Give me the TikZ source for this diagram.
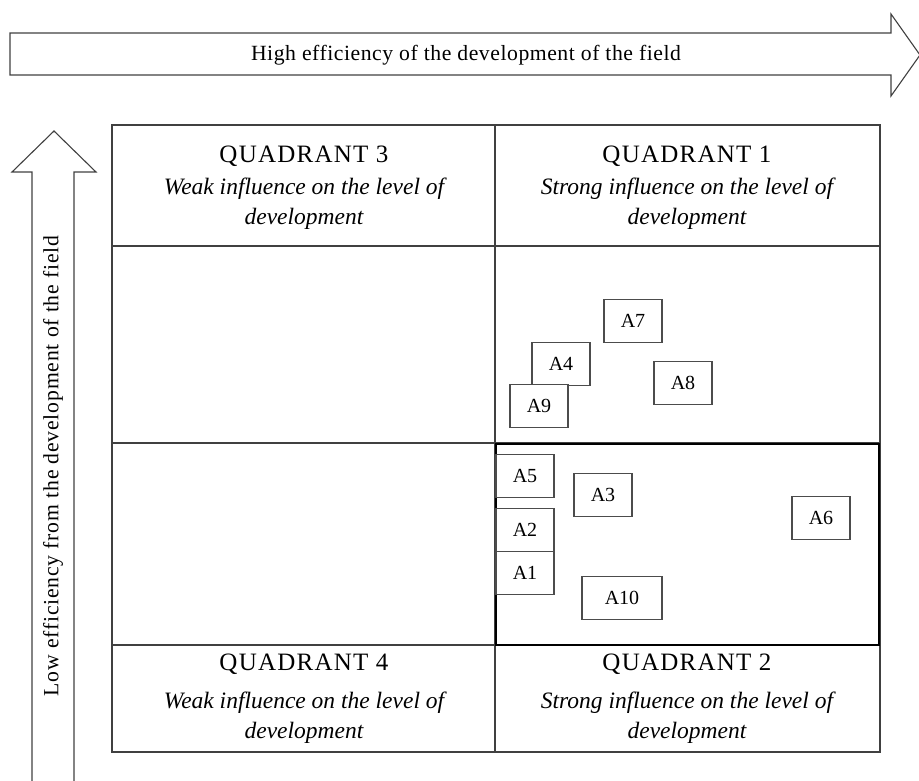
\documentclass[tikz,border=0pt]{standalone}
\usepackage{fontspec}
\setmainfont{Liberation Serif}
\newfontfamily\spacedA[LetterSpace=2.5]{Liberation Serif}
\newfontfamily\spacedB[LetterSpace=3.6]{Liberation Serif}
\newfontfamily\spacedT[LetterSpace=5]{Liberation Serif}
\begin{document}
\begin{tikzpicture}[x=1pt,y=-1pt,
  ln/.style={draw=black!75,line width=1.1pt},
  abox/.style={draw=black!70,line width=1.1pt,minimum width=58pt,minimum height=43pt,inner sep=0pt,font=\fontsize{20}{22}\selectfont},
  qtitle/.style={align=center,font=\spacedT\fontsize{25}{28}\selectfont},
  qsub/.style={align=center,font=\fontsize{23.5}{30}\selectfont\itshape}]
\useasboundingbox (0,0) rectangle (919,780);
% top arrow
\draw[ln] (10,33) -- (891,33) -- (891,14) -- (920,55) -- (891,96) -- (891,75) -- (10,75) -- cycle;
\node[font=\spacedA\fontsize{21.7}{24}\selectfont] (toptxt) at (466,55) {High efficiency of the development of the field};
% left arrow
\draw[ln] (32,781) -- (32,172) -- (12,172) -- (54,131) -- (96,172) -- (74,172) -- (74,781);
\node[rotate=90,font=\spacedB\fontsize{21.7}{24}\selectfont] (lefttxt) at (53,466) {Low efficiency from the development of the field};
% grid
\draw[ln] (112,125) rectangle (880,752);
\draw[ln] (495,125) -- (495,752);
\draw[ln] (112,246) -- (880,246);
\draw[ln] (112,443) -- (880,443);
\draw[ln] (112,645) -- (880,645);
\draw[line width=2.4pt] (496,444) rectangle (879,645);
% headers
\node[qtitle] (q3) at (304,156) {QUADRANT 3};
\node[qsub] (q3s) at (304,204) {Weak influence on the level of\\development};
\node[qtitle] (q1) at (687,156) {QUADRANT 1};
\node[qsub] (q1s) at (687,204) {Strong influence on the level of\\development};
\node[qtitle] (q4) at (304,664) {QUADRANT 4};
\node[qsub] (q4s) at (304,718) {Weak influence on the level of\\development};
\node[qtitle] (q2) at (687,664) {QUADRANT 2};
\node[qsub] (q2s) at (687,718) {Strong influence on the level of\\development};
% items
\node[abox] (a7) at (633,321) {A7};
\node[abox] (a4) at (561,364) {A4};
\node[abox,fill=white] (a9) at (539,406) {A9};
\node[abox] (a8) at (683,383) {A8};
\node[abox,fill=white] (a5) at (525,476) {A5};
\node[abox] (a3) at (603,495) {A3};
\node[abox,fill=white] (a2) at (525,530) {A2};
\node[abox,fill=white] (a1) at (525,573) {A1};
\node[abox,minimum width=80pt] (a10) at (622,598) {A10};
\node[abox] (a6) at (821,518) {A6};
\end{tikzpicture}
\end{document}
